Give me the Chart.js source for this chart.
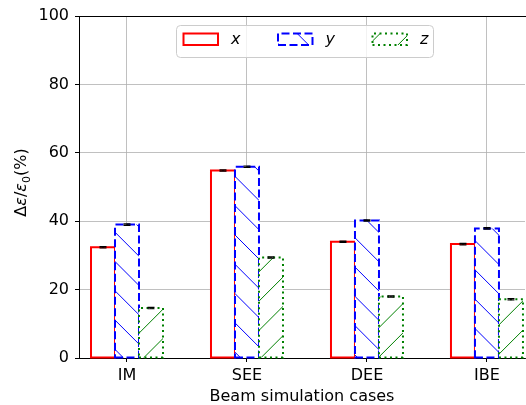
<!DOCTYPE html>
<html><head><meta charset="utf-8">
<script src="https://cdn.jsdelivr.net/npm/chart.js@4/dist/chart.umd.min.js"></script>
<style>html,body{margin:0;padding:0;background:#fff;}canvas{display:block}</style>
</head><body>
<canvas id="c" width="526" height="405"></canvas>
<script>
// ---- data ----
const categories = ['IM', 'SEE', 'DEE', 'IBE'];
const seriesNames = ['x', 'y', 'z'];
const xValues = [32.4, 54.8, 34.0, 33.3];
const yValues = [39.0, 55.9, 40.2, 37.9];
const zValues = [14.6, 29.4, 18.0, 17.2];
const xErrors = [0.2, 0.2, 0.2, 0.2];
const yErrors = [0.2, 0.2, 0.2, 0.2];
const zErrors = [0.2, 0.2, 0.2, 0.2];
const yTickValues = [0, 20, 40, 60, 80, 100];

const FONT = '"DejaVu Sans", "Liberation Sans", sans-serif';
const HATCH_P = 29.3;

const styles = [
  {color: '#ff0000', dash: [], hatch: null, phase: 0},
  {color: '#0000ff', dash: [8, 3.5], hatch: '\\', phase: 0},
  {color: '#008000', dash: [2, 3.5], hatch: '/', phase: 3.4}
];
const seriesValues = [xValues, yValues, zValues];
const seriesErrors = [xErrors, yErrors, zErrors];

function drawPatch(ctx, x0, y0, x1, y1, st) {
  ctx.save();
  ctx.fillStyle = '#ffffff';
  ctx.fillRect(x0, y0, x1 - x0, y1 - y0);
  if (st.hatch) {
    ctx.save();
    ctx.beginPath();
    ctx.rect(x0, y0, x1 - x0, y1 - y0);
    ctx.clip();
    ctx.strokeStyle = st.color;
    ctx.lineWidth = 1;
    ctx.setLineDash([]);
    ctx.beginPath();
    if (st.hatch === '\\') {
      const vmin = y0 - x1, vmax = y1 - x0;
      let k = Math.floor((vmin - st.phase) / HATCH_P);
      for (let v = st.phase + k * HATCH_P; v <= vmax + HATCH_P; v += HATCH_P) {
        ctx.moveTo(x0 - 2, x0 - 2 + v);
        ctx.lineTo(x1 + 2, x1 + 2 + v);
      }
    } else {
      const vmin = y0 + x0, vmax = y1 + x1;
      let k = Math.floor((vmin - st.phase) / HATCH_P);
      for (let v = st.phase + k * HATCH_P; v <= vmax + HATCH_P; v += HATCH_P) {
        ctx.moveTo(x0 - 2, v - (x0 - 2));
        ctx.lineTo(x1 + 2, v - (x1 + 2));
      }
    }
    ctx.stroke();
    ctx.restore();
  }
  ctx.strokeStyle = st.color;
  ctx.lineWidth = 2;
  ctx.setLineDash(st.dash);
  ctx.lineDashOffset = 0;
  ctx.beginPath();
  ctx.moveTo(x0, y1);
  ctx.lineTo(x1, y1);
  ctx.lineTo(x1, y0);
  ctx.lineTo(x0, y0);
  ctx.closePath();
  ctx.stroke();
  ctx.restore();
}

const barPlugin = {
  id: 'hatchBars',
  afterDatasetsDraw(chart) {
    const ctx = chart.ctx;
    const area = chart.chartArea;
    ctx.save();
    ctx.beginPath();
    ctx.rect(area.left - 2, area.top - 2, area.right - area.left + 4, area.bottom - area.top + 4);
    ctx.clip();
    chart.data.datasets.forEach((ds, di) => {
      const meta = chart.getDatasetMeta(di);
      meta.data.forEach((bar) => {
        const p = bar.getProps(['x', 'y', 'base', 'width'], true);
        drawPatch(ctx, p.x - p.width / 2, p.y, p.x + p.width / 2, p.base, styles[di]);
      });
    });
    const ys = chart.scales.y;
    chart.data.datasets.forEach((ds, di) => {
      const meta = chart.getDatasetMeta(di);
      meta.data.forEach((bar, i) => {
        const p = bar.getProps(['x'], true);
        const v = seriesValues[di][i], e = seriesErrors[di][i];
        const ya = ys.getPixelForValue(v + e), yb = ys.getPixelForValue(v - e);
        ctx.strokeStyle = '#000';
        ctx.lineWidth = 1.2;
        ctx.setLineDash([]);
        ctx.beginPath();
        ctx.moveTo(p.x, ya); ctx.lineTo(p.x, yb);
        ctx.moveTo(p.x - 3.5, ya); ctx.lineTo(p.x + 3.5, ya);
        ctx.moveTo(p.x - 3.5, yb); ctx.lineTo(p.x + 3.5, yb);
        ctx.stroke();
      });
    });
    ctx.restore();
  },
  afterDraw(chart) {
    const ctx = chart.ctx;
    const a = chart.chartArea;
    ctx.save();
    ctx.strokeStyle = '#000';
    ctx.lineWidth = 1;
    ctx.beginPath();
    ctx.moveTo(a.left, Math.round(a.top) + 0.5);
    ctx.lineTo(a.right + 1, Math.round(a.top) + 0.5);
    ctx.stroke();
    // legend
    const bx = a.left + 97.5, by = a.top + 9.5, bw = 257, bh = 32, r = 4;
    ctx.fillStyle = 'rgba(255,255,255,0.8)';
    ctx.strokeStyle = '#cccccc';
    ctx.lineWidth = 1;
    ctx.beginPath();
    ctx.roundRect(bx, by, bw, bh, r);
    ctx.fill();
    ctx.stroke();
    chart.data.datasets.forEach((ds, di) => {
      const hx = bx + 7 + di * 94.5;
      const hy = by + 8;
      drawPatch(ctx, hx, hy, hx + 34.5, hy + 11.5, styles[di]);
      ctx.fillStyle = '#000';
      ctx.font = 'italic 16px ' + FONT;
      ctx.textAlign = 'left';
      ctx.textBaseline = 'middle';
      ctx.fillText(ds.label, hx + 47.5, hy + 6);
    });
    // y-axis label: Δε/ε0(%)
    const big = '16px ' + FONT, ital = 'italic 16px ' + FONT;
    const smallUp = '11px ' + FONT;
    const parts = [
      {t: 'Δ', f: big, dy: 0},
      {t: 'ε', f: ital, dy: 0},
      {t: '/', f: big, dy: 0},
      {t: 'ε', f: ital, dy: 0},
      {t: '0', f: smallUp, dy: 3.5},
      {t: '(%)', f: big, dy: 0}
    ];
    let total = 0;
    parts.forEach(pt => { ctx.font = pt.f; pt.w = ctx.measureText(pt.t).width; total += pt.w; });
    ctx.translate(26, (a.top + a.bottom) / 2 - 4.5);
    ctx.rotate(-Math.PI / 2);
    ctx.fillStyle = '#000';
    ctx.textAlign = 'left';
    ctx.textBaseline = 'alphabetic';
    let cx = -total / 2;
    parts.forEach(pt => { ctx.font = pt.f; ctx.fillText(pt.t, cx, pt.dy); cx += pt.w; });
    ctx.restore();
  }
};

const datasets = seriesNames.map((name, di) => ({
  label: name,
  data: seriesValues[di].map((v, i) => ({x: i, y: v})),
  backgroundColor: '#ffffff',
  borderWidth: 0,
  categoryPercentage: 0.6,
  barPercentage: 1.0
}));

const gridCommon = {color: '#b0b0b0', lineWidth: 0.8, tickColor: '#000', tickLength: 4, tickWidth: 1, offset: false};

new Chart(document.getElementById('c'), {
  type: 'bar',
  data: {datasets},
  plugins: [barPlugin],
  options: {
    responsive: false,
    animation: false,
    layout: {padding: {top: 16, right: 1, left: 0, bottom: 0}},
    plugins: {legend: {display: false}, tooltip: {enabled: false}},
    scales: {
      x: {
        type: 'linear',
        offset: false,
        min: -0.4,
        max: 3.317,
        grid: gridCommon,
        border: {color: '#000', width: 1},
        afterBuildTicks: s => { s.ticks = categories.map((c, i) => ({value: i})); },
        ticks: {
          callback: v => categories[v],
          font: {family: FONT, size: 16},
          color: '#000',
          padding: 4,
          maxRotation: 0,
          autoSkip: false
        },
        title: {display: true, text: 'Beam simulation cases', font: {family: FONT, size: 16, lineHeight: 1.0}, color: '#000', padding: 0},
        afterFit: s => { s.height = 47; }
      },
      y: {
        type: 'linear',
        min: 0,
        max: 100,
        grid: gridCommon,
        border: {color: '#000', width: 1},
        afterBuildTicks: s => { s.ticks = yTickValues.map(v => ({value: v})); },
        ticks: {font: {family: FONT, size: 16}, color: '#000', padding: 6},
        afterFit: s => { s.width = 79; }
      }
    }
  }
});
</script>
</body></html>
